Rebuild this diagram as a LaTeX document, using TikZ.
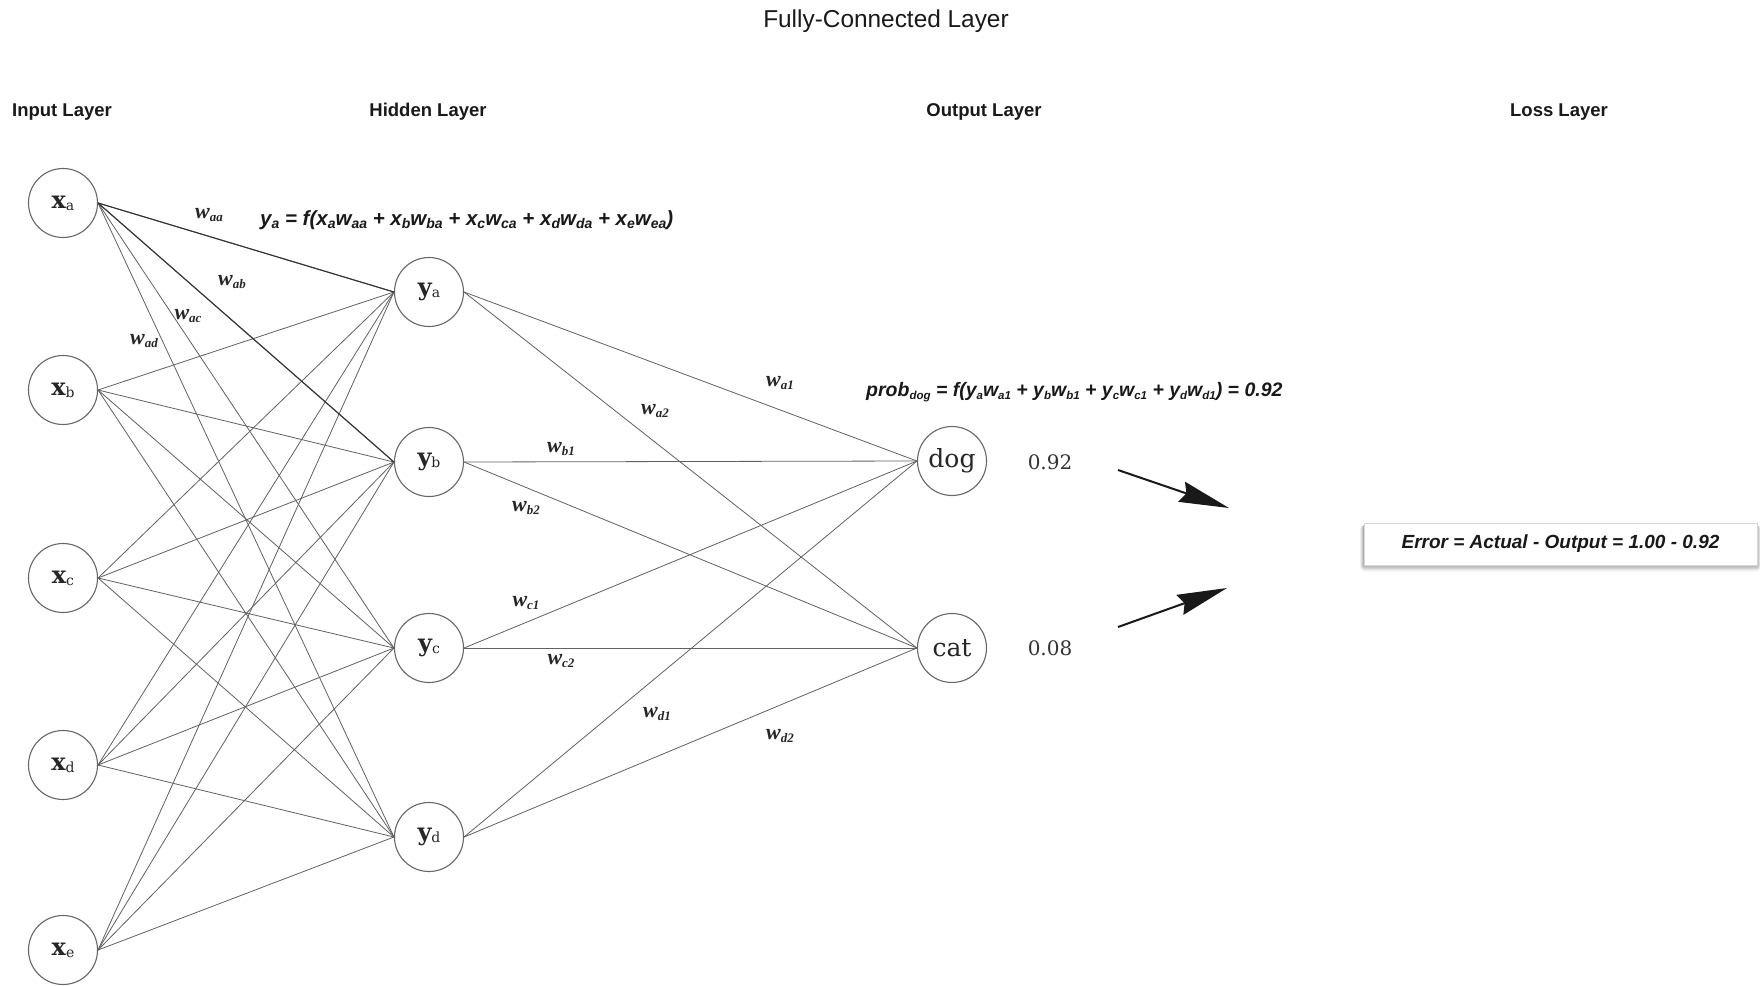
\documentclass[tikz,border=0pt]{standalone}
\usepackage{fontspec}
\setmainfont{Liberation Sans}
\newfontfamily\nodefont{DejaVu Serif}
\newfontfamily\wfont{Liberation Serif}
\usetikzlibrary{arrows.meta}

% small lowered index used inside neurons and formulas
\newcommand\nsub[1]{\raisebox{-2pt}{\mdseries\fontsize{14}{14}\selectfont #1}}
\newcommand\esub[1]{\raisebox{-3pt}{\fontsize{11.5}{12}\selectfont #1}}
\newcommand\fsub[1]{\raisebox{-3pt}{\fontsize{14}{14}\selectfont #1}}
\newcommand\wsub[1]{\raisebox{-3pt}{\fontsize{13}{13}\selectfont #1}}

\tikzset{
  neuron/.style={circle, draw=black!60, line width=1.1pt, minimum size=69pt,
    inner sep=0pt, text=black!85, font=\nodefont\fontsize{25}{27}\selectfont},
  inneuron/.style={neuron, font=\nodefont\bfseries\fontsize{24}{26}\selectfont},
  link/.style={draw=black!62, line width=0.8pt},
  strong/.style={draw=black!80, line width=1.1pt},
  wlab/.style={inner sep=0pt, text=black!85,
    font=\wfont\bfseries\itshape\fontsize{22}{23}\selectfont},
  eqn/.style={inner sep=0pt, anchor=west, text=black!90,
    font=\bfseries\itshape\fontsize{19.5}{22}\selectfont},
  layer/.style={inner sep=0pt, text=black!90, font=\bfseries\fontsize{18.5}{20}\selectfont},
  prob/.style={inner sep=0pt, text=black!80, font=\nodefont\fontsize{20}{22}\selectfont},
  bigarrow/.style={line width=2pt, black!90,
    -{Stealth[length=50pt, width=21pt, inset=5pt]}},
}

\begin{document}
\begin{tikzpicture}[x=1pt, y=-1pt]
\useasboundingbox (0,0) rectangle (1760,985);
\fill[white] (0,0) rectangle (1760,985);

% headings
\node[inner sep=0pt, text=black!90, font=\fontsize{24.4}{26}\selectfont] (title) at (886,21) {Fully-Connected Layer};
\node[layer] (linput)  at (62,112)   {Input Layer};
\node[layer] (lhidden) at (428,112)  {Hidden Layer};
\node[layer] (loutput) at (984,112)  {Output Layer};
\node[layer] (lloss)   at (1559,112) {Loss Layer};

% input layer
\node[inneuron] (xa) at (63,203) {x\nsub{a}};
\node[inneuron] (xb) at (63,390) {x\nsub{b}};
\node[inneuron] (xc) at (63,578) {x\nsub{c}};
\node[inneuron] (xd) at (63,765) {x\nsub{d}};
\node[inneuron] (xe) at (63,950) {x\nsub{e}};

% hidden layer
\node[inneuron] (ya) at (429,292) {y\nsub{a}};
\node[inneuron] (yb) at (429,462) {y\nsub{b}};
\node[inneuron] (yc) at (429,648) {y\nsub{c}};
\node[inneuron] (yd) at (429,837) {y\nsub{d}};

% output layer
\node[neuron] (dog) at (952,461) {dog};
\node[neuron] (cat) at (952,648) {cat};

% input -> hidden connections
\foreach \i in {a,b,c,d,e}{
  \foreach \h in {a,b,c,d}{
    \draw[link] (x\i.east) -- (y\h.west);
  }
}
\draw[strong] (xa.east) -- (ya.west);
\draw[strong] (xa.east) -- (yb.west);

% hidden -> output connections
\foreach \h in {a,b,c,d}{
  \draw[link] (y\h.east) -- (dog.west);
  \draw[link] (y\h.east) -- (cat.west);
}

% weight labels
\node[wlab] (waa) at (209,215) {w\wsub{aa}};
\node[wlab] (wab) at (232,282) {w\wsub{ab}};
\node[wlab] (wac) at (188,316) {w\wsub{ac}};
\node[wlab] (wad) at (144,341) {w\wsub{ad}};
\node[wlab] (wa1) at (780,383) {w\wsub{a1}};
\node[wlab] (wa2) at (655,411) {w\wsub{a2}};
\node[wlab] (wb1) at (561,449) {w\wsub{b1}};
\node[wlab] (wb2) at (526,508) {w\wsub{b2}};
\node[wlab] (wc1) at (526,603) {w\wsub{c1}};
\node[wlab] (wc2) at (561,661) {w\wsub{c2}};
\node[wlab] (wd1) at (657,714) {w\wsub{d1}};
\node[wlab] (wd2) at (780,736) {w\wsub{d2}};

% formulas
\node[eqn, font=\bfseries\itshape\fontsize{20.5}{22}\selectfont] (eqya) at (260,220)
  {y\fsub{a} = f(x\fsub{a}w\fsub{aa} + x\fsub{b}w\fsub{ba} + x\fsub{c}w\fsub{ca} + x\fsub{d}w\fsub{da} + x\fsub{e}w\fsub{ea})};
\node[eqn] (eqdog) at (866,392)
  {prob\esub{dog} = f(y\esub{a}w\esub{a1} + y\esub{b}w\esub{b1} + y\esub{c}w\esub{c1} + y\esub{d}w\esub{d1}) = 0.92};

% output probabilities
\node[prob] (pdog) at (1050,462) {0.92};
\node[prob] (pcat) at (1050,648) {0.08};

% arrows into the loss layer
\coordinate (a1s) at (1118,470);
\coordinate (a1e) at (1229,508);
\coordinate (a2s) at (1118,627);
\coordinate (a2e) at (1227,588);
\draw[bigarrow] (a1s) -- (a1e);
\draw[bigarrow] (a2s) -- (a2e);

% error box with a soft shadow
\foreach \k/\op in {5/0.05,4/0.06,3/0.07,2/0.08,1/0.09}{
  \fill[black, opacity=\op, rounded corners=\k pt]
    (1364-\k*0.8,523+2) rectangle (1757+\k*0.8,565+\k*1.3);
}
\node[draw=black!15, line width=0.6pt, fill=white, minimum width=393pt, minimum height=42pt,
  inner sep=0pt, text=black!90, font=\bfseries\itshape\fontsize{19}{21}\selectfont]
  (err) at (1560.5,544) {Error = Actual - Output = 1.00 - 0.92};
\end{tikzpicture}
\end{document}
